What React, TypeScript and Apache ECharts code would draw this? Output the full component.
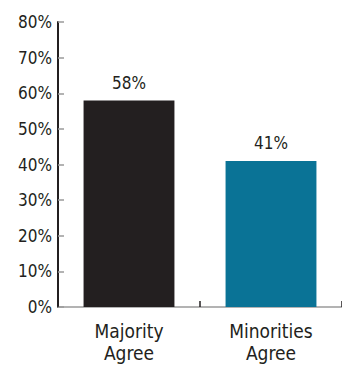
import React, { useEffect, useRef } from "react";
import * as echarts from "echarts";

const categories = ["Majority\nAgree", "Minorities\nAgree"];
const values = [58, 41];
const barColors = ["#231f20", "#0a7396"];
const yTicks = [0, 10, 20, 30, 40, 50, 60, 70, 80];

const FONT = "'Liberation Sans Narrow', 'DejaVu Sans Condensed', 'Liberation Sans', sans-serif";

export default function App() {
  const ref = useRef<HTMLDivElement>(null);
  useEffect(() => {
    const chart = echarts.init(ref.current!, null, { renderer: "svg" });
    chart.setOption({
      animation: false,
      grid: { left: 58, right: 0, top: 22, bottom: 59 },
      xAxis: {
        type: "category",
        data: categories,
        axisLine: { lineStyle: { color: "#9a9a9a", width: 1.5 } },
        axisTick: { show: true, inside: true, length: 6, lineStyle: { color: "#231f20", width: 1.5 } },
        axisLabel: { color: "#231f20", fontFamily: FONT, fontSize: 19, lineHeight: 22, margin: 13 },
      },
      yAxis: {
        type: "value",
        min: yTicks[0],
        max: yTicks[yTicks.length - 1],
        interval: 10,
        splitLine: { show: false },
        axisLine: { show: true, lineStyle: { color: "#231f20", width: 2 } },
        axisTick: { show: true, inside: true, length: 6, lineStyle: { color: "#9a9a9a", width: 1.5 } },
        axisLabel: { color: "#231f20", fontFamily: FONT, fontSize: 17, formatter: "{value}%", margin: 6 },
      },
      series: [
        {
          type: "bar",
          barWidth: "64%",
          data: values.map((v, i) => ({ value: v, itemStyle: { color: barColors[i] } })),
          label: {
            show: true,
            position: "top",
            distance: 9,
            formatter: "{c}%",
            color: "#231f20",
            fontFamily: FONT,
            fontSize: 17,
          },
        },
      ],
    });
    return () => chart.dispose();
  }, []);
  return <div ref={ref} style={{ position: "absolute", left: 0, top: 0, width: 342, height: 366 }} />;
}
